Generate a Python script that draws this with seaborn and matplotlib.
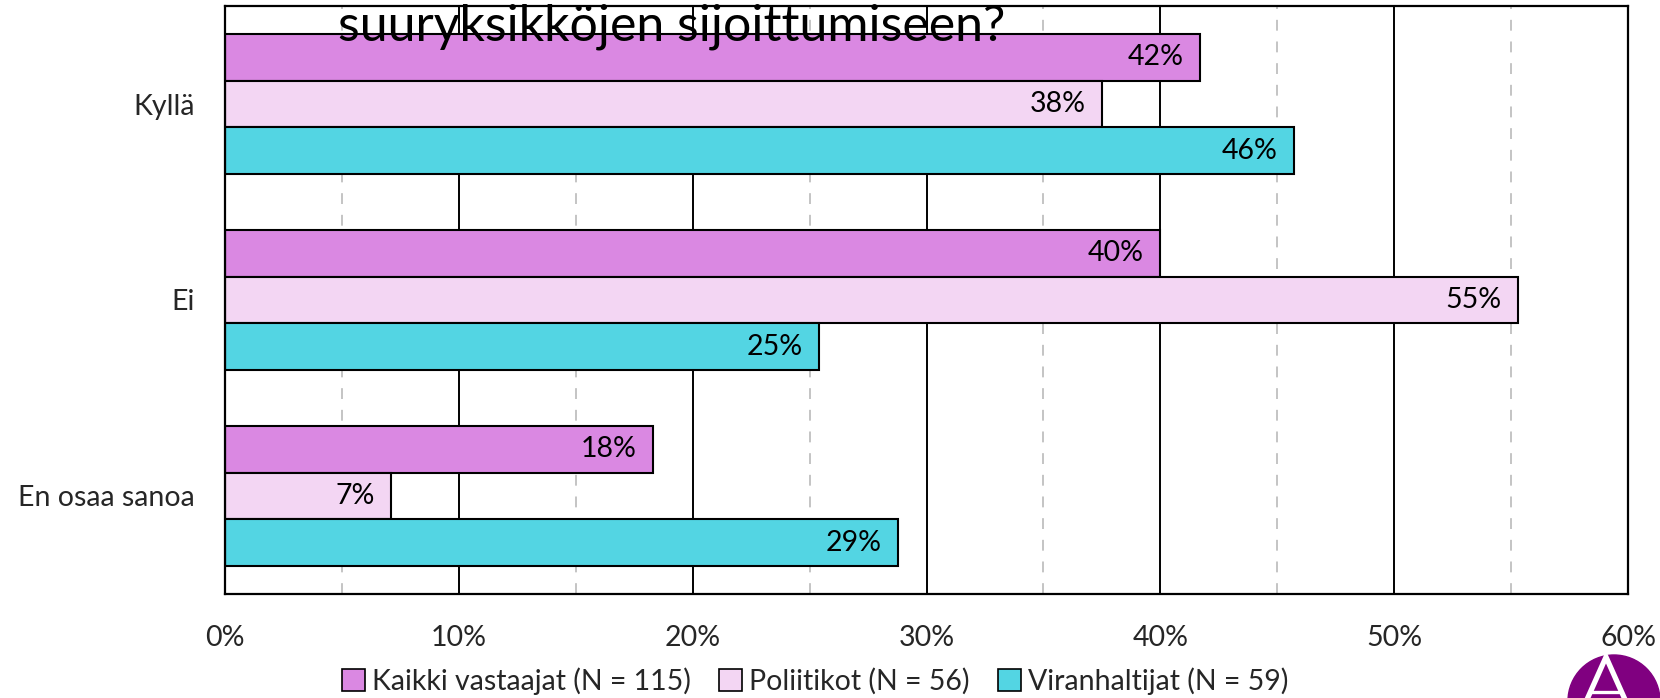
import pandas as pd
import matplotlib.pyplot as plt
import seaborn as sns
from matplotlib.patches import Ellipse
from matplotlib.lines import Line2D
from matplotlib.ticker import MultipleLocator, FuncFormatter

# Data (%)
vastaukset = ["Kyllä", "Ei", "En osaa sanoa"]
ryhmat = ["Kaikki vastaajat (N = 115)", "Poliitikot (N = 56)", "Viranhaltijat (N = 59)"]
kaikki = [41.7, 40.0, 18.3]
poliitikot = [37.5, 55.3, 7.1]
viranhaltijat = [45.7, 25.4, 28.8]
varit = ["#DA88E2", "#F3D6F3", "#53D5E3"]

rows = []
for ryhma, arvot in zip(ryhmat, [kaikki, poliitikot, viranhaltijat]):
    for v, a in zip(vastaukset, arvot):
        rows.append({"vastaus": v, "ryhma": ryhma, "osuus": a})
df = pd.DataFrame(rows)

sns.set_style("white")
plt.rcParams["font.family"] = ["Lato", "DejaVu Sans"]

W, H = 1660, 698
fig = plt.figure(figsize=(16.6, 6.98), dpi=100)
ax = fig.add_axes([225 / W, 1 - 594 / H, (1628 - 225) / W, 588 / H])

sns.barplot(data=df, y="vastaus", x="osuus", hue="ryhma", order=vastaukset,
            hue_order=ryhmat, palette=varit, orient="h", width=0.717,
            edgecolor="black", linewidth=1.5, saturation=1, legend=False, ax=ax)

# labels at bar ends
for cont in ax.containers:
    for bar in cont:
        w = bar.get_width()
        ax.text(w - 0.7, bar.get_y() + bar.get_height() / 2, f"{round(w)}%",
                ha="right", va="center", fontsize=20.5, color="black")

ax.set_xlim(0, 60)
ax.set_ylim(2.5, -0.5)
ax.xaxis.set_major_locator(MultipleLocator(10))
ax.xaxis.set_minor_locator(MultipleLocator(5))
ax.xaxis.set_major_formatter(FuncFormatter(lambda x, p: f"{x:.0f}%"))
ax.grid(axis="x", which="major", color="black", linewidth=1.4)
ax.grid(axis="x", which="minor", color="#BFBFBF", linewidth=1.3, linestyle=(0, (6, 6)))
ax.set_axisbelow(True)
ax.tick_params(axis="x", which="both", length=0, pad=22, labelsize=20.5)
ax.tick_params(axis="y", length=0, pad=22, labelsize=20.5)
ax.set_xlabel("")
ax.set_ylabel("")
for s in ax.spines.values():
    s.set_color("black")
    s.set_linewidth(1.6)

fig.text(672 / W, 1 - 40 / H, "suuryksikköjen sijoittumiseen?", ha="center",
         va="baseline", fontsize=36, color="black")

handles = [plt.Rectangle((0, 0), 1, 1, facecolor=c, edgecolor="black", linewidth=1.2) for c in varit]
fig.legend(handles, ryhmat, loc="center", bbox_to_anchor=(815 / W, 1 - 681 / H),
           ncol=3, frameon=False, fontsize=20.5, handlelength=0.8, handleheight=0.8,
           handletextpad=0.25, columnspacing=1.0)

# logo in the corner (purple disc with a white "A" mark)
fig.patches.append(Ellipse((1614 / W, 1 - 701 / H), 92 / W, 92 / H,
                           transform=fig.transFigure, color="#800080", clip_on=False))
for xs, ys, lw in [([1585, 1606, 1627], [704, 657, 704], 3.8),
                   ([1590, 1622], [692, 692], 2.4)]:
    fig.add_artist(Line2D([x / W for x in xs], [1 - y / H for y in ys],
                          transform=fig.transFigure, color="white", linewidth=lw,
                          solid_joinstyle="miter"))

plt.savefig("out.png", dpi=100)
